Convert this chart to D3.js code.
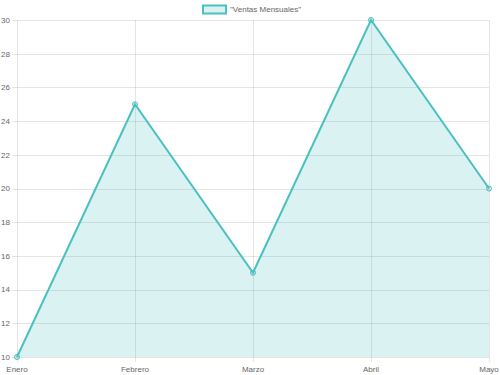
<!DOCTYPE html>
<html>
<head>
<meta charset="utf-8">
<script src="https://cdn.jsdelivr.net/npm/d3@7"></script>
<style>
  body { margin: 0; background: #fff; }
  text { font-family: "Liberation Sans", Arial, sans-serif; fill: #666; }
</style>
</head>
<body>
<div id="chart"></div>
<script>
// Chart data
const months = ['Enero', 'Febrero', 'Marzo', 'Abril', 'Mayo'];
const ventas = [10, 25, 15, 30, 20];
const yTicks = [10, 12, 14, 16, 18, 20, 22, 24, 26, 28, 30];
const seriesLabel = '"Ventas Mensuales"';

const width = 500;
const height = 375;
const margin = { top: 20, right: 11, bottom: 18, left: 17 };

const lineColor = 'rgb(75, 192, 192)';
const fillColor = 'rgba(75, 192, 192, 0.2)';
const gridColor = 'rgba(0, 0, 0, 0.1)';

const svg = d3.select('#chart')
    .append('svg')
    .attr('width', width)
    .attr('height', height);

// Scales
const x = d3.scalePoint()
    .domain(months)
    .range([margin.left, width - margin.right]);

const y = d3.scaleLinear()
    .domain([10, 30])
    .range([height - margin.bottom, margin.top]);

// Horizontal grid lines + tick marks
svg.append('g')
    .selectAll('line')
    .data(yTicks)
    .enter()
    .append('line')
    .attr('x1', margin.left - 5)
    .attr('x2', width - margin.right)
    .attr('y1', d => Math.round(y(d)) + 0.5)
    .attr('y2', d => Math.round(y(d)) + 0.5)
    .attr('stroke', gridColor)
    .attr('stroke-width', 1);

// Vertical grid lines
svg.append('g')
    .selectAll('line')
    .data(months)
    .enter()
    .append('line')
    .attr('x1', d => Math.round(x(d)) + 0.5)
    .attr('x2', d => Math.round(x(d)) + 0.5)
    .attr('y1', margin.top)
    .attr('y2', height - margin.bottom + 5)
    .attr('stroke', gridColor)
    .attr('stroke-width', 1);

// Y labels
svg.append('g')
    .selectAll('text')
    .data(yTicks)
    .enter()
    .append('text')
    .attr('x', margin.left - 7)
    .attr('y', d => y(d))
    .attr('dy', '0.35em')
    .attr('text-anchor', 'end')
    .style('font-size', '8px')
    .text(d => d);

// X labels
svg.append('g')
    .selectAll('text')
    .data(months)
    .enter()
    .append('text')
    .attr('x', d => x(d))
    .attr('y', height - margin.bottom + 12)
    .attr('dy', '0.35em')
    .attr('text-anchor', 'middle')
    .style('font-size', '8px')
    .text(d => d);

const points = months.map((m, i) => [x(m), y(ventas[i])]);

// Area fill
const area = d3.area()
    .x(d => d[0])
    .y0(y(10))
    .y1(d => d[1]);

svg.append('path')
    .datum(points)
    .attr('d', area)
    .attr('fill', fillColor);

// Line
svg.append('path')
    .datum(points)
    .attr('d', d3.line())
    .attr('fill', 'none')
    .attr('stroke', lineColor)
    .attr('stroke-width', 2);

// Points
svg.append('g')
    .selectAll('circle')
    .data(points)
    .enter()
    .append('circle')
    .attr('cx', d => d[0])
    .attr('cy', d => d[1])
    .attr('r', 2.5)
    .attr('fill', fillColor)
    .attr('stroke', lineColor)
    .attr('stroke-width', 1);

// Legend
const legend = svg.append('g');
legend.append('rect')
    .attr('x', 203)
    .attr('y', 5.5)
    .attr('width', 23)
    .attr('height', 8)
    .attr('fill', fillColor)
    .attr('stroke', lineColor)
    .attr('stroke-width', 2);
legend.append('text')
    .attr('x', 230)
    .attr('y', 9.5)
    .attr('dy', '0.35em')
    .style('font-size', '8px')
    .text(seriesLabel);
</script>
</body>
</html>
